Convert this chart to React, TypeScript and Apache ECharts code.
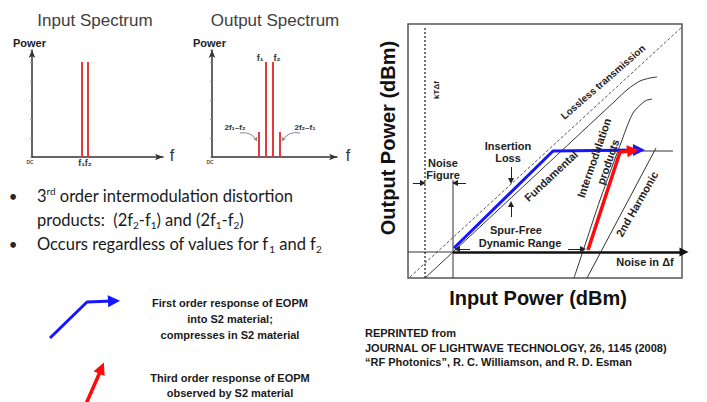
import { useEffect, useRef } from "react";
import * as echarts from "echarts";

// ---- Spectrum data: [frequency position, power] ----
const inputTones = [[50, 95], [56, 95]];
const outputTones = [[47, 25], [54, 95], [61, 95], [68, 25]];

// ---- Dynamic-range diagram curves: [input power, output power] (arbitrary units) ----
const lossless = [[2, 1], [274, 251]];
const ktLine = [[17, 0], [17, 250]];
const fundamental = [[17, 0], [45, 26], [207, 177], [220, 189], [232, 197], [242, 200], [249, 201]];
const intermod = [[166, 0], [178, 36], [192, 78], [214, 138], [225, 165], [237, 177], [244, 179]];
const harmonic2 = [[179, 0], [248, 130]];
const compression = [[145, 127], [265, 127]];
const noiseFigureLine = [[45, 0], [45, 98]];
const noiseFloor = [[0, 26], [45, 26]];
const outputAxis = [[45, 26], [276, 26]];
const blueResponse = [[46, 30], [145, 127], [229, 128]];
const blueHead = [[145, 127], [231, 128]];
const redResponse = [[180, 28], [212, 126], [222, 127]];
const redHead = [[212, 126], [225, 127.5]];
const dimensionArrows = [
  [[5, 95], [15, 95]],
  [[58, 95], [47, 95]],
  [[103, 111], [103, 97]],
  [[103, 61], [103, 74]],
  [[62, 29], [49, 29]],
  [[160, 29], [175, 29]],
];
// ---- Legend arrows (page coordinates) ----
const legendBlue = [[50, 338], [87, 302], [112, 301]];
const legendBlueHead = [[87, 302], [114, 301]];
const legendRed = [[86, 404], [100, 372]];
const legendRedHead = [[86, 404], [101.5, 368]];
// ---- Spectrum annotation arrows ----
const imdArrows = [
  [[28, 24], [45, 16]],
  [[88, 24], [70, 16]],
];

const AR = "'Liberation Sans', Arial, sans-serif";
const deg = (d: number) => (d * Math.PI) / 180;

function txt(text: string, x: number, y: number, font: string, opts: any = {}) {
  return {
    type: "text",
    x,
    y,
    rotation: opts.rotation || 0,
    z: 100,
    style: {
      text,
      font,
      fill: opts.fill || "#1a1a1a",
      align: opts.align || "center",
      verticalAlign: "middle",
      textAlign: opts.align || "center",
      textVerticalAlign: "middle",
      rich: opts.rich,
    },
  };
}

const BF = "'Lato', 'Open Sans', sans-serif";
const bulletRich = {
  t: { fontSize: 16.5, fontFamily: BF, color: "#262626", lineHeight: 20 },
  sup: { fontSize: 10, fontFamily: BF, color: "#262626", verticalAlign: "top", lineHeight: 18 },
  sub: { fontSize: 10, fontFamily: BF, color: "#262626", verticalAlign: "bottom", lineHeight: 15 },
};

function specAxes(grid: number, xmax: number) {
  return {
    x: {
      type: "value",
      gridIndex: grid,
      min: 0,
      max: xmax,
      axisLine: { show: true, symbol: ["none", "arrow"], symbolSize: [5, 8], lineStyle: { color: "#333", width: 1.5 } },
      axisTick: { show: false },
      axisLabel: { show: false },
      splitLine: { show: false },
    },
    y: {
      type: "value",
      gridIndex: grid,
      min: 0,
      max: 107,
      interval: 19,
      axisLine: { show: true, symbol: ["none", "arrow"], symbolSize: [5, 8], lineStyle: { color: "#333", width: 1.5 } },
      axisTick: { show: true, length: 2, lineStyle: { color: "#999" } },
      axisLabel: { show: false },
      splitLine: { show: false },
    },
  };
}

function hiddenAxes(grid: number, xmax: number, ymax: number, inverse = false) {
  return {
    x: { type: "value", gridIndex: grid, min: 0, max: xmax, show: false },
    y: { type: "value", gridIndex: grid, min: 0, max: ymax, show: false, inverse },
  };
}

function curve(data: number[][], style: any, smooth: any = false, axis = 2, z = 3) {
  return {
    type: "line",
    xAxisIndex: axis,
    yAxisIndex: axis,
    data,
    smooth,
    z,
    showSymbol: false,
    symbol: "none",
    clip: false,
    lineStyle: { color: "#333", width: 1, ...style },
    silent: true,
  };
}

function arrowLines(axis: number, coords: number[][][], style: any, size: number, z = 5, head = "arrow") {
  return {
    type: "lines",
    coordinateSystem: "cartesian2d",
    xAxisIndex: axis,
    yAxisIndex: axis,
    clip: false,
    z,
    symbol: ["none", head],
    symbolSize: size,
    lineStyle: { opacity: 1, ...style },
    data: coords.map((c) => ({ coords: c })),
    silent: true,
  };
}

export default function App() {
  const ref = useRef<HTMLDivElement>(null);
  useEffect(() => {
    const chart = echarts.init(ref.current!, null, { renderer: "svg" });
    const a0 = specAxes(0, 131);
    const a1 = specAxes(1, 125);
    const a2 = hiddenAxes(2, 274, 254);
    const a3 = hiddenAxes(3, 707, 402, true);
    const BLUE = "#1515ff";
    const RED = "#ff0a0a";
    const option: any = {
      animation: false,
      backgroundColor: "#ffffff",
      grid: [
        { left: 32, top: 50, width: 131, height: 107 },
        { left: 212, top: 50, width: 125, height: 107 },
        { left: 408, top: 24, width: 274, height: 254, show: true, borderColor: "#555", borderWidth: 1.5 },
        { left: 0, top: 0, width: 707, height: 402 },
      ],
      xAxis: [a0.x, a1.x, a2.x, a3.x],
      yAxis: [a0.y, a1.y, a2.y, a3.y],
      series: [
        { type: "bar", xAxisIndex: 0, yAxisIndex: 0, data: inputTones, barWidth: 2, itemStyle: { color: "#e33a3a" } },
        { type: "bar", xAxisIndex: 1, yAxisIndex: 1, data: outputTones, barWidth: 2, itemStyle: { color: "#e33a3a" } },
        {
          type: "lines",
          coordinateSystem: "cartesian2d",
          xAxisIndex: 1,
          yAxisIndex: 1,
          symbol: ["none", "arrow"],
          symbolSize: 4,
          lineStyle: { color: "#888", width: 1, opacity: 1 },
          data: [
            { coords: imdArrows[0], lineStyle: { curveness: 0.35 } },
            { coords: imdArrows[1], lineStyle: { curveness: -0.35 } },
          ],
        },
        curve(lossless, { type: [3, 2], color: "#555" }),
        curve(ktLine, { type: [2, 2], color: "#444", width: 1.5 }),
        curve(fundamental, {}, 0.25),
        curve(intermod, {}, 0.25),
        curve(harmonic2, {}),
        curve(compression, {}),
        curve(noiseFigureLine, {}),
        curve(noiseFloor, {}),
        arrowLines(2, [outputAxis], { color: "#111", width: 2.5 }, 9, 5, "triangle"),
        arrowLines(2, dimensionArrows, { color: "#222", width: 1 }, 6, 5, "triangle"),
        curve(blueResponse, { color: BLUE, width: 3 }, false, 2, 8),
        arrowLines(2, [blueHead], { color: BLUE, width: 0.5 }, 12, 8, "triangle"),
        curve(redResponse, { color: RED, width: 3.5 }, false, 2, 9),
        arrowLines(2, [redHead], { color: RED, width: 0.5 }, 12, 9, "triangle"),
        curve(legendBlue, { color: BLUE, width: 3 }, false, 3, 8),
        arrowLines(3, [legendBlueHead], { color: BLUE, width: 0.5 }, 12, 8, "triangle"),
        curve(legendRed, { color: RED, width: 3.5 }, false, 3, 8),
        arrowLines(3, [legendRedHead], { color: RED, width: 0.5 }, 12, 8, "triangle"),
      ],
      graphic: [
        // left spectra
        txt("Input Spectrum", 95, 20, `17px ${AR}`, { fill: "#404040" }),
        txt("Output Spectrum", 275, 20, `17px ${AR}`, { fill: "#404040" }),
        txt("Power", 13, 43, `bold 11px ${AR}`, { align: "left", fill: "#222" }),
        txt("Power", 193, 43, `bold 11px ${AR}`, { align: "left", fill: "#222" }),
        txt("f", 172, 155, `16px ${AR}`, { fill: "#333" }),
        txt("f", 348, 155, `16px ${AR}`, { fill: "#333" }),
        txt("DC", 30, 162, `bold 5px ${AR}`, { fill: "#555" }),
        txt("DC", 210, 162, `bold 5px ${AR}`, { fill: "#555" }),
        txt("f₁f₂", 85, 163, `bold 9px ${AR}`, { fill: "#333" }),
        txt("f₁", 260, 58, `bold 9px ${AR}`, { fill: "#333" }),
        txt("f₂", 277, 58, `bold 9px ${AR}`, { fill: "#333" }),
        txt("2f₁–f₂", 235, 127, `bold 8px ${AR}`, { fill: "#333" }),
        txt("2f₂–f₁", 305, 127, `bold 8px ${AR}`, { fill: "#333" }),
        // bullets
        txt("•", 13, 196, `15px ${BF}`, { fill: "#262626" }),
        txt("•", 13, 244, `15px ${BF}`, { fill: "#262626" }),
        txt("{t|3}{sup|rd}{t| order intermodulation distortion}", 37, 196, `16.5px ${BF}`, { align: "left", rich: bulletRich }),
        txt("{t|products:  (2f}{sub|2}{t|-f}{sub|1}{t|) and (2f}{sub|1}{t|-f}{sub|2}{t|)}", 37, 220, `16.5px ${BF}`, { align: "left", rich: bulletRich }),
        txt("{t|Occurs regardless of values for f}{sub|1}{t| and f}{sub|2}", 37, 244, `16.5px ${BF}`, { align: "left", rich: bulletRich }),
        // legend texts
        txt("First order response of EOPM", 230, 303, `bold 11px ${AR}`),
        txt("into S2 material;", 230, 319, `bold 11px ${AR}`),
        txt("compresses in S2 material", 230, 335, `bold 11px ${AR}`),
        txt("Third order response of EOPM", 230, 378, `bold 11px ${AR}`),
        txt("observed by S2 material", 230, 393, `bold 11px ${AR}`),
        // main diagram
        txt("Output Power (dBm)", 388, 138, `bold 20px ${AR}`, { rotation: deg(90), fill: "#111" }),
        txt("Input Power (dBm)", 538, 298, `bold 20px ${AR}`, { fill: "#111" }),
        txt("kTΔf", 436, 90, `bold 8px ${AR}`, { rotation: deg(90), fill: "#222" }),
        txt("Lossless transmission", 603, 82, `bold 10px ${AR}`, { rotation: deg(41), fill: "#222" }),
        txt("Fundamental", 551, 176, `bold 11px ${AR}`, { rotation: deg(43), fill: "#222" }),
        txt("Intermodulation", 594, 158, `bold 11px ${AR}`, { rotation: deg(71), fill: "#222" }),
        txt("products", 608, 162, `bold 11px ${AR}`, { rotation: deg(71), fill: "#222" }),
        txt("2nd Harmonic", 637, 204, `bold 11px ${AR}`, { rotation: deg(60), fill: "#222" }),
        txt("Insertion", 508, 146, `bold 11px ${AR}`, { fill: "#222" }),
        txt("Loss", 508, 158, `bold 11px ${AR}`, { fill: "#222" }),
        txt("Noise", 443, 163, `bold 11px ${AR}`, { fill: "#222" }),
        txt("Figure", 443, 175, `bold 11px ${AR}`, { fill: "#222" }),
        txt("Spur-Free", 516, 230, `bold 11px ${AR}`, { fill: "#222" }),
        txt("Dynamic Range", 520, 243, `bold 11px ${AR}`, { fill: "#222" }),
        txt("Noise in Δf", 645, 262, `bold 11px ${AR}`, { fill: "#222" }),
        // citation
        txt("REPRINTED from", 365, 333, `bold 11px ${AR}`, { align: "left" }),
        txt("JOURNAL OF LIGHTWAVE TECHNOLOGY, 26, 1145 (2008)", 365, 348, `bold 11px ${AR}`, { align: "left" }),
        txt("“RF Photonics”, R. C. Williamson, and R. D. Esman", 365, 362, `bold 11px ${AR}`, { align: "left" }),
      ],
    };
    chart.setOption(option);
    return () => chart.dispose();
  }, []);
  return (
    <div
      ref={ref}
      style={{ position: "fixed", left: 0, top: 0, width: 707, height: 402, background: "#fff" }}
    />
  );
}
